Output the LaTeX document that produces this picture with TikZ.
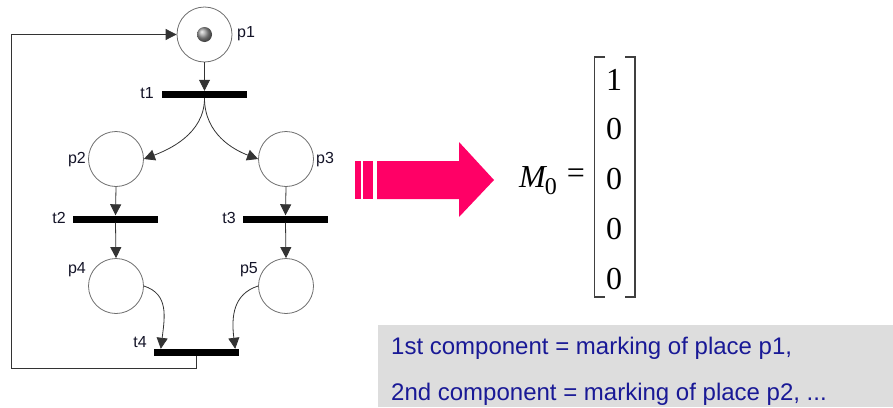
\documentclass[tikz,border=0pt]{standalone}
\usepackage{fontspec}
\setmainfont{Liberation Sans}
\newfontfamily\timesfont{Liberation Serif}
\usetikzlibrary{arrows.meta}
\definecolor{pinkarrow}{RGB}{255,0,102}
\definecolor{boxgray}{RGB}{221,221,221}
\definecolor{navytext}{RGB}{25,25,150}
\definecolor{circlegray}{RGB}{110,110,110}
\definecolor{labelcol}{RGB}{20,20,40}
\begin{document}
\begin{tikzpicture}[x=1pt,y=-1pt,
  place/.style={circle, draw=circlegray, line width=0.8pt, minimum size=55pt, inner sep=0pt},
  trans/.style={rectangle, fill=black, minimum width=85pt, minimum height=7pt, inner sep=0pt},
  lbl/.style={inner sep=0pt, font=\fontsize{16}{16}\selectfont, text=labelcol},
  arc/.style={draw=black!80, line width=0.8pt, -{Triangle[length=11pt,width=11pt]}},
  entry/.style={inner sep=0pt, font=\timesfont\fontsize{32}{32}\selectfont},
  bracket/.style={draw=black!75, line width=1.3pt},
  boxtext/.style={inner sep=0pt, anchor=base west, text=navytext, font=\fontsize{24}{24}\selectfont}
]
\useasboundingbox (0,0) rectangle (893,407);

% places
\node[place] (p1) at (204.5,34.5) {};
\node[shade, ball color=gray!80, circle, minimum size=15pt, inner sep=0pt] (token) at (204.5,34.5) {};
\node[place] (p2) at (116,159) {};
\node[place] (p3) at (286,159) {};
\node[place] (p4) at (116,286) {};
\node[place] (p5) at (286,286) {};

% transitions
\node[trans] (t1) at (204.5,94.5) {};
\node[trans] (t2) at (115.5,219) {};
\node[trans] (t3) at (285.5,219) {};
\node[trans] (t4) at (196.5,352.5) {};

% labels
\node[lbl, anchor=west] (lp1) at (237,33.5) {p1};
\node[lbl, anchor=east] (lt1) at (154,93.5) {t1};
\node[lbl, anchor=east] (lp2) at (86,159.5) {p2};
\node[lbl, anchor=west] (lp3) at (316,159.5) {p3};
\node[lbl, anchor=east] (lt2) at (66,217.5) {t2};
\node[lbl, anchor=east] (lt3) at (236,217.5) {t3};
\node[lbl, anchor=east] (lp4) at (86,269.5) {p4};
\node[lbl, anchor=east] (lp5) at (258,269.5) {p5};
\node[lbl, anchor=east] (lt4) at (147,342.5) {t4};

% arcs
\draw[arc] (p1.south) -- (t1.north);
\draw[arc] (t1.south) .. controls +(0,36) and +(24,-9) .. (p2.east);
\draw[arc] (t1.south) .. controls +(0,36) and +(-24,-9) .. (p3.west);
\draw[arc] (p2.south) -- (t2.north);
\draw[arc] (t2.south) -- (p4.north);
\draw[arc] (p3.south) -- (t3.north);
\draw[arc] (t3.south) -- (p5.north);
\draw[arc] (p4.east) .. controls +(25,8) and +(4,-32) .. ([xshift=7pt]t4.north west);
\draw[arc] (p5.west) .. controls +(-25,8) and +(-4,-32) .. ([xshift=-4pt]t4.north east);

% feedback loop
\coordinate (loopbl) at (11,368);
\coordinate (looptl) at (11,34.5);
\draw[arc] (t4.south) |- (loopbl) -- (looptl) -- (p1.west);

% pink arrow
\fill[pinkarrow] (355,161) rectangle (361,199);
\fill[pinkarrow] (363,161) rectangle (373,199);
\fill[pinkarrow] (377,161) -- (459,161) -- (459,142) -- (494,180) -- (459,217) -- (459,199) -- (377,199) -- cycle;

% marking vector
\node[entry, anchor=base west] (M) at (519,187) {\itshape M\kern-1pt\raisebox{-7pt}{\upshape\fontsize{24}{24}\selectfont 0}};
\node[entry] (eq) at (576,176) {=};
\node[entry] (m1) at (614,80) {1};
\node[entry] (m2) at (614,129.5) {0};
\node[entry] (m3) at (614,179.5) {0};
\node[entry] (m4) at (614,229.5) {0};
\node[entry] (m5) at (614,279) {0};
\draw[bracket] (605,57) -- (594.5,57) -- (594.5,297) -- (605,297);
\draw[bracket] (625,57) -- (635,57) -- (635,297) -- (625,297);

% explanation box
\node[fill=boxgray, minimum width=515pt, minimum height=82pt, inner sep=0pt, anchor=north west] (box) at (378,325) {};
\node[boxtext] (line1) at (391,354) {1st component = marking of place p1,};
\node[boxtext] (line2) at (391,400) {2nd component = marking of place p2, ...};
\end{tikzpicture}
\end{document}
